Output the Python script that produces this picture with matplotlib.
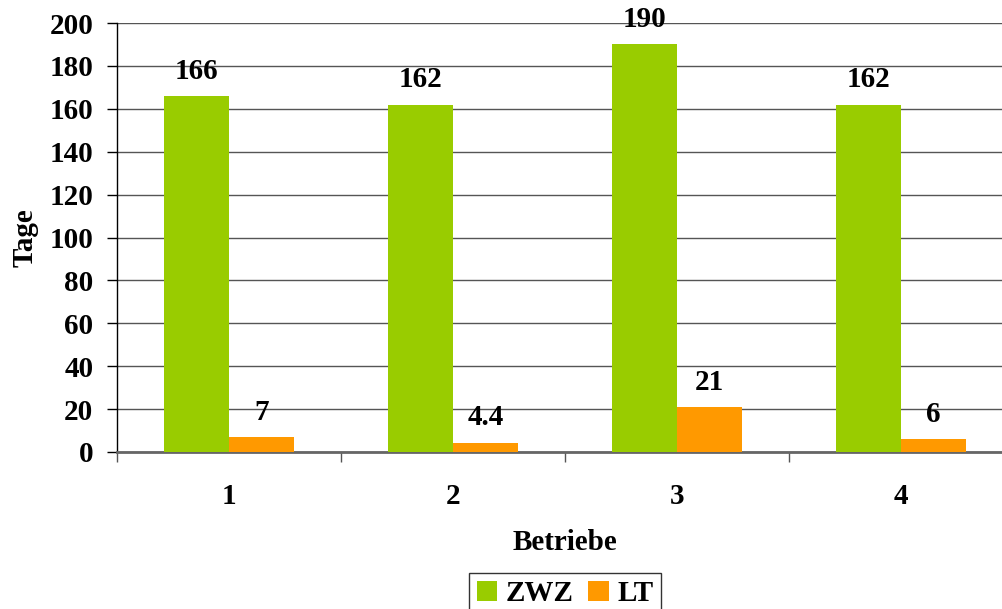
import matplotlib
matplotlib.use("Agg")
import matplotlib.pyplot as plt
import numpy as np
from matplotlib.patches import Patch

plt.rcParams['font.family'] = ['Liberation Serif', 'DejaVu Serif']
plt.rcParams['font.weight'] = 'bold'

categories = ["1", "2", "3", "4"]
zwz = [166, 162, 190, 162]
lt = [7, 4.4, 21, 6]
zwz_labels = ["166", "162", "190", "162"]
lt_labels = ["7", "4.4", "21", "6"]
series_names = ["ZWZ", "LT"]

green = "#99CC00"
orange = "#FF9900"

W, H = 1002, 609
fig = plt.figure(figsize=(W / 100, H / 100), dpi=100)
ax = fig.add_axes([117 / W, 1 - 452 / H, 896 / W, 429 / H])

x = np.arange(1, len(categories) + 1)
bw = 0.29
ax.bar(x - bw / 2, zwz, bw, color=green, zorder=3)
ax.bar(x + bw / 2, lt, bw, color=orange, zorder=3)

fs = 21
for xi, v, s in zip(x, zwz, zwz_labels):
    ax.annotate(s, (xi - bw / 2, v), xytext=(0, 8), textcoords="offset points",
                ha="center", va="bottom", fontsize=fs, fontweight="bold")
for xi, v, s in zip(x, lt, lt_labels):
    ax.annotate(s, (xi + bw / 2, v), xytext=(0, 8), textcoords="offset points",
                ha="center", va="bottom", fontsize=fs, fontweight="bold")

ax.set_xlim(0.5, len(categories) + 0.5)
ax.set_ylim(0, 200)
ax.set_yticks(np.arange(0, 201, 20))
ax.set_xticks(x)
ax.set_xticklabels(categories)
ax.set_xticks(np.arange(0.5, len(categories) + 1, 1), minor=True)
ax.tick_params(axis="x", which="major", length=0, pad=22, labelsize=fs)
ax.tick_params(axis="x", which="minor", length=7, width=1, color="#555555", direction="out")
ax.tick_params(axis="y", length=7, width=1, color="black", direction="out", pad=10, labelsize=fs)
for lbl in ax.get_xticklabels() + ax.get_yticklabels():
    lbl.set_fontweight("bold")

ax.grid(axis="y", color="#555555", linewidth=1, zorder=0)
ax.set_axisbelow(True)
for sp in ("top", "right"):
    ax.spines[sp].set_visible(False)
ax.spines["left"].set_color("black")
ax.spines["left"].set_linewidth(1)
ax.spines["bottom"].set_color("#666666")
ax.spines["bottom"].set_linewidth(2)

ax.set_ylabel("Tage", fontsize=fs, fontweight="bold", labelpad=8)
ax.set_xlabel("Betriebe", fontsize=fs, fontweight="bold", labelpad=14)

handles = [Patch(facecolor=green, edgecolor="none"), Patch(facecolor=orange, edgecolor="none")]
leg = fig.legend(handles, series_names, loc="upper center",
                 bbox_to_anchor=(565 / W, 1 - 573 / H), ncol=2, frameon=True,
                 fancybox=False, edgecolor="black", fontsize=fs,
                 handlelength=0.7, handleheight=0.7, handletextpad=0.3,
                 columnspacing=0.5, borderpad=0.25, borderaxespad=0)
leg.get_frame().set_linewidth(1)
for t in leg.get_texts():
    t.set_fontweight("bold")

fig.savefig("out.png", dpi=100)
